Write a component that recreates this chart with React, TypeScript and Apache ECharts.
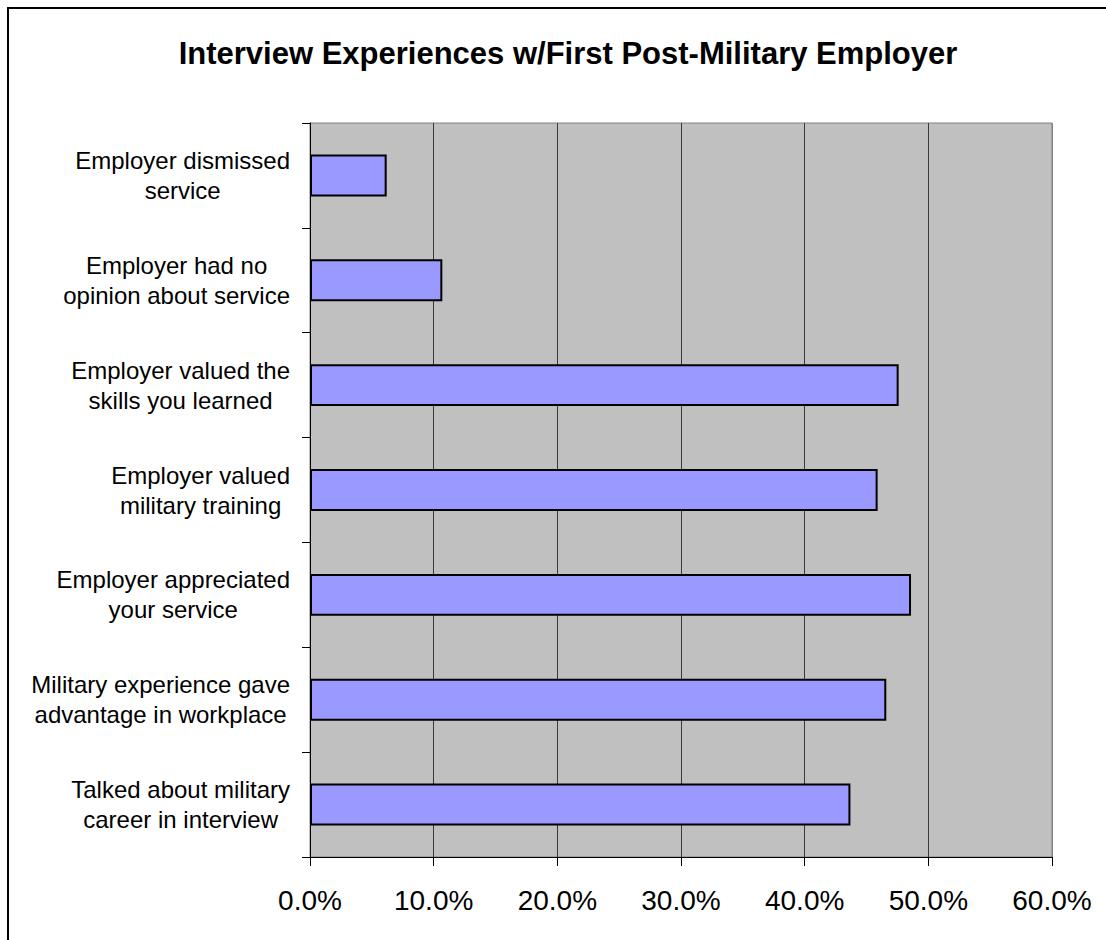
import React, { useEffect, useRef } from "react";
import * as echarts from "echarts";

const titleText = "Interview Experiences w/First Post-Military Employer";
const categories = [
  "Employer dismissed\nservice",
  "Employer had no\nopinion about service",
  "Employer valued the\nskills you learned",
  "Employer valued\nmilitary training",
  "Employer appreciated\nyour service",
  "Military experience gave\nadvantage in workplace",
  "Talked about military\ncareer in interview",
];
const values = [6.2, 10.7, 47.6, 45.9, 48.6, 46.6, 43.7];
const axisMin = 0;
const axisMax = 60;
const axisInterval = 10;

const FONT = "'Liberation Sans', Arial, sans-serif";

export default function App() {
  const ref = useRef<HTMLDivElement>(null);
  useEffect(() => {
    if (!ref.current) return;
    const chart = echarts.init(ref.current, undefined, { renderer: "svg" });
    chart.setOption({
      animation: false,
      backgroundColor: "#ffffff",
      title: {
        text: titleText,
        left: 563,
        top: 48,
        textAlign: "center",
        textVerticalAlign: "middle",
        textStyle: { fontFamily: FONT, fontSize: 31, fontWeight: "bold", color: "#000" },
      },
      grid: {
        left: 310,
        top: 123,
        width: 742,
        height: 734,
        show: true,
        backgroundColor: "#C0C0C0",
        borderColor: "#808080",
        borderWidth: 1,
        containLabel: false,
      },
      xAxis: {
        type: "value",
        min: axisMin,
        max: axisMax,
        interval: axisInterval,
        axisLine: { show: true, lineStyle: { color: "#000", width: 1 } },
        axisTick: { show: true, length: 9, lineStyle: { color: "#000" } },
        splitLine: {
          show: true,
          lineStyle: {
            color: ["#000", "#3a3a3a", "#3a3a3a", "#3a3a3a", "#3a3a3a", "#3a3a3a", "#808080"],
            width: 1,
          },
        },
        axisLabel: {
          margin: 29,
          fontFamily: FONT,
          fontSize: 28,
          color: "#000",
          formatter: (v: number) => v.toFixed(1) + "%",
        },
      },
      yAxis: {
        type: "category",
        inverse: true,
        data: categories,
        axisLine: { show: true, lineStyle: { color: "#000", width: 1 } },
        axisTick: { show: true, length: 8, lineStyle: { color: "#000" } },
        axisLabel: {
          margin: 20,
          align: "right",
          fontFamily: FONT,
          fontSize: 24,
          color: "#000",
          lineHeight: 30,
          formatter: (v: string) =>
            v
              .split("\n")
              .map((l) => `{c|${l}}`)
              .join("\n"),
          rich: {
            c: { align: "center", fontFamily: FONT, fontSize: 24, lineHeight: 30, color: "#000" },
          },
        },
      },
      series: [
        {
          type: "bar",
          data: values,
          barWidth: "40%",
          itemStyle: { color: "#9999FF", borderColor: "#000", borderWidth: 2 },
        },
      ],
    });
    return () => chart.dispose();
  }, []);
  return (
    <div style={{ position: "absolute", left: 0, top: 0, width: 1106, height: 940, overflow: "hidden" }}>
      <div ref={ref} style={{ position: "absolute", left: 0, top: 0, width: 1106, height: 940 }} />
      <div
        style={{
          position: "absolute",
          left: 7,
          top: 7,
          width: 1099,
          height: 933,
          boxSizing: "border-box",
          borderLeft: "2px solid #000",
          borderTop: "2px solid #000",
          pointerEvents: "none",
        }}
      />
    </div>
  );
}
